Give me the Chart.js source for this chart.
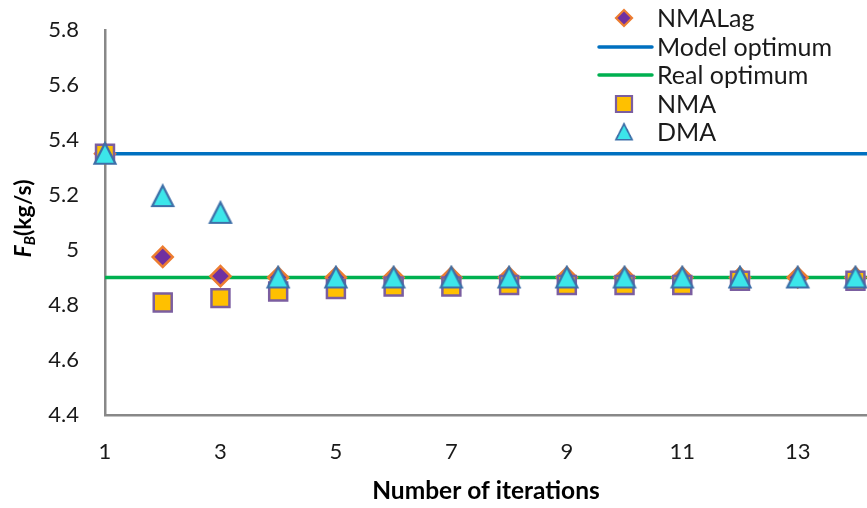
<!DOCTYPE html>
<html><head><meta charset="utf-8">
<script src="https://cdn.jsdelivr.net/npm/chart.js@4/dist/chart.umd.min.js"></script>
<style>html,body{margin:0;padding:0;background:#fff;}#wrap{position:relative;width:867px;height:508px;}</style>
</head><body><div id="wrap"><canvas id="c" width="867" height="508"></canvas></div>
<script>
// ---- data ----
const iterations = [1,2,3,4,5,6,7,8,9,10,11,12,13,14];
const nmaLag = [5.35,4.975,4.905,4.9,4.9,4.9,4.9,4.9,4.9,4.9,4.9,4.9,4.9,4.9];
const nma    = [5.35,4.809,4.825,4.849,4.858,4.867,4.867,4.873,4.873,4.873,4.873,4.888,null,4.888];
const dma    = [5.35,5.196,5.135,4.9,4.9,4.9,4.9,4.9,4.9,4.9,4.9,4.9,4.9,4.9];
const modelOptimum = 5.35;
const realOptimum = 4.9;
const xTicks = [1,3,5,7,9,11,13];
const yTicks = [4.4,4.6,4.8,5,5.2,5.4,5.6,5.8];
const xRange = [1, 14.2];
const seriesLabels = ['NMALag','Model optimum','Real optimum','NMA','DMA'];

// ---- styles ----
const C = {
  diamondFill:'#7030A0', diamondBorder:'#ED7D31',
  squareFill:'#FFC000', squareBorder:'#7B5EA0',
  triFill:'#3CE6EA', triBorder:'#3D6FA8',
  blue:'#0070C0', green:'#00B050', axis:'#888888', text:'#1a1a1a'
};
const FONT = 'Lato, "Open Sans", sans-serif';

function makeTriangle(){
  const cv = document.createElement('canvas');
  cv.width = 26; cv.height = 26;
  const g = cv.getContext('2d');
  g.beginPath();
  g.moveTo(13, 2.5); g.lineTo(23.5, 23); g.lineTo(2.5, 23); g.closePath();
  g.fillStyle = C.triFill; g.fill();
  g.lineWidth = 2.2; g.lineJoin = 'miter'; g.strokeStyle = C.triBorder; g.stroke();
  return cv;
}
const triImg = makeTriangle();

const pts = arr => arr.map((v,i)=>({x: iterations[i], y: v}));
const hline = v => xRange.map(x=>({x, y: v}));

const datasets = [
  {label: seriesLabels[0], data: pts(nmaLag), showLine:false, pointStyle:'rectRot', pointRadius:10,
   backgroundColor:C.diamondFill, borderColor:C.diamondBorder, pointBorderWidth:2.5, order:3, clip:false, legendKind:'diamond'},
  {label: seriesLabels[1], data: hline(modelOptimum), showLine:true, pointRadius:0, borderColor:C.blue, borderWidth:3.5, order:5, legendKind:'line'},
  {label: seriesLabels[2], data: hline(realOptimum), showLine:true, pointRadius:0, borderColor:C.green, borderWidth:3.5, order:4, legendKind:'line'},
  {label: seriesLabels[3], data: pts(nma), showLine:false, pointStyle:'rect', pointRadius:12.7,
   backgroundColor:C.squareFill, borderColor:C.squareBorder, pointBorderWidth:2.5, order:2, clip:false, legendKind:'square'},
  {label: seriesLabels[4], data: pts(dma), showLine:false, pointStyle:triImg, pointRadius:12,
   backgroundColor:C.triFill, borderColor:C.triBorder, order:1, clip:false, legendKind:'triangle'}
];

const legendPlugin = {
  id:'customLegend',
  afterDraw(chart){
    const ctx = chart.ctx;
    ctx.save();
    const rows = [18, 47, 75, 104, 132];
    const mx = 624, tx = 657;
    chart.data.datasets.forEach((ds, i)=>{
      const y = rows[i];
      if (ds.legendKind === 'line'){
        ctx.strokeStyle = ds.borderColor; ctx.lineWidth = 3.5; ctx.lineCap='round';
        ctx.beginPath(); ctx.moveTo(599, y); ctx.lineTo(652, y); ctx.stroke();
      } else if (ds.legendKind === 'diamond'){
        ctx.beginPath(); ctx.moveTo(mx-8, y); ctx.lineTo(mx, y-8); ctx.lineTo(mx+8, y); ctx.lineTo(mx, y+8); ctx.closePath();
        ctx.fillStyle = ds.backgroundColor; ctx.fill(); ctx.lineWidth=2.2; ctx.strokeStyle = ds.borderColor; ctx.stroke();
      } else if (ds.legendKind === 'square'){
        ctx.beginPath(); ctx.rect(mx-8, y-8, 16, 16);
        ctx.fillStyle = ds.backgroundColor; ctx.fill(); ctx.lineWidth=2.2; ctx.strokeStyle = ds.borderColor; ctx.stroke();
      } else if (ds.legendKind === 'triangle'){
        ctx.drawImage(triImg, mx-10, y-10, 20, 20);
      }
      ctx.fillStyle = C.text; ctx.font = '25px ' + FONT; ctx.textBaseline='middle'; ctx.textAlign='left';
      ctx.fillText(ds.label, tx, y+1);
    });
    ctx.restore();
  }
};

const yTitlePlugin = {
  id:'yTitle',
  afterDraw(chart){
    const ctx = chart.ctx;
    const a = chart.chartArea;
    ctx.save();
    ctx.translate(24, (a.top + a.bottom)/2 - 4);
    ctx.rotate(-Math.PI/2);
    ctx.fillStyle = '#000';
    ctx.textBaseline = 'middle';
    const f1 = 'italic bold 23px ' + FONT, f2 = 'italic bold 15px ' + FONT, f3 = 'bold 23px ' + FONT;
    ctx.font = f1; const w1 = ctx.measureText('F').width;
    ctx.font = f2; const w2 = ctx.measureText('B').width;
    ctx.font = f3; const w3 = ctx.measureText('(kg/s)').width;
    let x = -(w1+w2+w3)/2;
    ctx.font = f1; ctx.fillText('F', x, 0); x += w1;
    ctx.font = f2; ctx.fillText('B', x, 6); x += w2;
    ctx.font = f3; ctx.fillText('(kg/s)', x, 0);
    ctx.restore();
  }
};

new Chart(document.getElementById('c'), {
  type:'scatter',
  data:{datasets},
  options:{
    responsive:false, animation:false, devicePixelRatio:1,
    layout:{autoPadding:false, padding:{top:30, right:0, left:0, bottom:0}},
    plugins:{legend:{display:false}, tooltip:{enabled:false}},
    scales:{
      x:{type:'linear', min:xRange[0], max:xRange[1],
        afterBuildTicks: s => { s.ticks = xTicks.map(v=>({value:v})); },
        afterFit: s => { s.height = 93; s.paddingLeft = 0; s.paddingRight = 0; },
        grid:{display:false, drawTicks:false},
        border:{display:true, color:C.axis, width:2.5},
        ticks:{color:C.text, font:{family:FONT, size:22}, padding:24, maxRotation:0, autoSkip:false},
        title:{display:true, text:'Number of iterations', color:'#000', font:{family:FONT, size:24.5, weight:'bold'}, padding:{top:0, bottom:2}}
      },
      y:{type:'linear', min:4.4, max:5.8,
        afterBuildTicks: s => { s.ticks = yTicks.map(v=>({value:v})); },
        afterFit: s => { s.width = 105; s.paddingTop = 0; s.paddingBottom = 0; },
        grid:{display:false, drawTicks:false},
        border:{display:true, color:C.axis, width:2.5},
        ticks:{color:C.text, font:{family:FONT, size:22}, padding:26, callback: v => String(Math.round(v*10)/10)}
      }
    }
  },
  plugins:[legendPlugin, yTitlePlugin]
});
</script></body></html>
